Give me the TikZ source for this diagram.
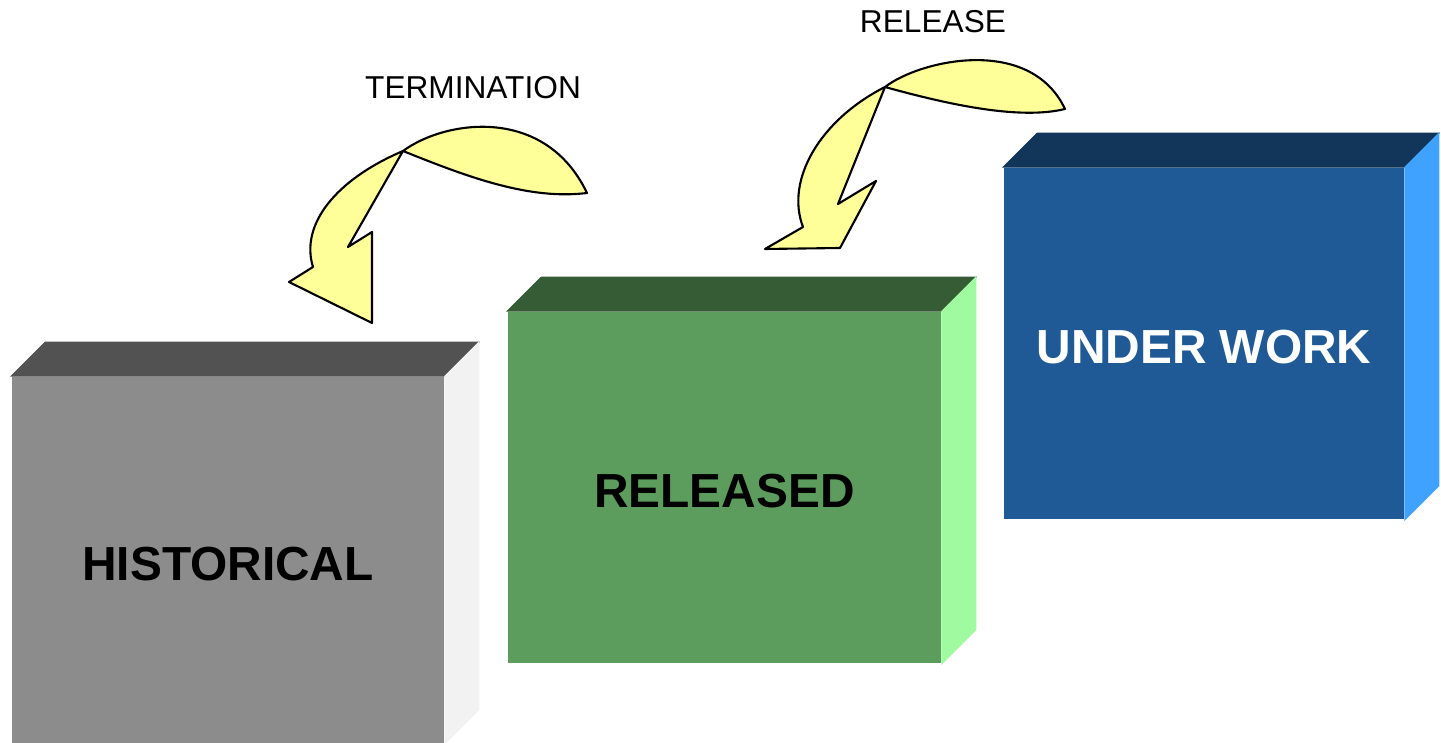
\documentclass[tikz,border=0pt]{standalone}
\usepackage{fontspec}
\setmainfont{Liberation Sans}
\usetikzlibrary{positioning}

\definecolor{histfront}{HTML}{8C8C8C}
\definecolor{histtop}{HTML}{525252}
\definecolor{histside}{HTML}{F2F2F2}
\definecolor{relfront}{HTML}{5C9C5C}
\definecolor{reltop}{HTML}{365C36}
\definecolor{relside}{HTML}{A0FAA0}
\definecolor{workfront}{HTML}{1F5A97}
\definecolor{worktop}{HTML}{12355A}
\definecolor{workside}{HTML}{3FA2FF}
\definecolor{curlyellow}{HTML}{FFFF99}

\tikzset{
  front/.style={inner sep=0pt,text height=0.41cm,font=\fontsize{13.6}{16}\selectfont\bfseries},
  curlarrow/.style={fill=curlyellow,draw=black,line width=0.6pt,line join=round},
  tag/.style={font=\fontsize{9}{11}\selectfont}
}

\begin{document}
\begin{tikzpicture}[x=0.01cm,y=-0.01cm]
  \useasboundingbox (0,0) rectangle (1441,743);

  % boxes
  \node [front,fill=histfront,minimum width=4.32cm,minimum height=3.66cm] (hist) at (228,560) {HISTORICAL};
  \node [front,fill=relfront,minimum width=4.33cm,minimum height=3.51cm]  (rel)  at (724.5,487.5) {RELEASED};
  \node [front,fill=workfront,text=white,minimum width=4.00cm,minimum height=3.51cm] (work) at (1204,343.5) {UNDER WORK};

  \foreach \b in {hist,rel,work} {
    \filldraw [\b top,line width=0.3pt]  (\b.north west) -- ++(34,-34) -- ([shift={(34,-34)}]\b.north east) -- (\b.north east) -- cycle;
    \filldraw [\b side,line width=0.3pt] (\b.north east) -- ++(34,-34) -- ([shift={(34,-34)}]\b.south east) -- (\b.south east) -- cycle;
  }

  % curved arrows
  \draw [curlarrow] (313,267) .. controls (300,225) and (335,180) .. (403,151)
    .. controls (445,120) and (545,105) .. (587,193)
    .. controls (530,200) and (470,178) .. (403,151)
    -- (348,247) -- (372,232) -- (372,323) -- (289,282) -- cycle;
  \draw [curlarrow] (803,227) .. controls (785,180) and (820,120) .. (885,87)
    .. controls (920,60) and (1030,35) .. (1065,109)
    .. controls (1020,120) and (950,105) .. (885,87)
    -- (838,204) -- (876,181) -- (840,248) -- (765,249) -- cycle;

  \node [tag] (term) at (473,88) {TERMINATION};
  \node [tag] (release) at (933,22) {RELEASE};
\end{tikzpicture}
\end{document}
